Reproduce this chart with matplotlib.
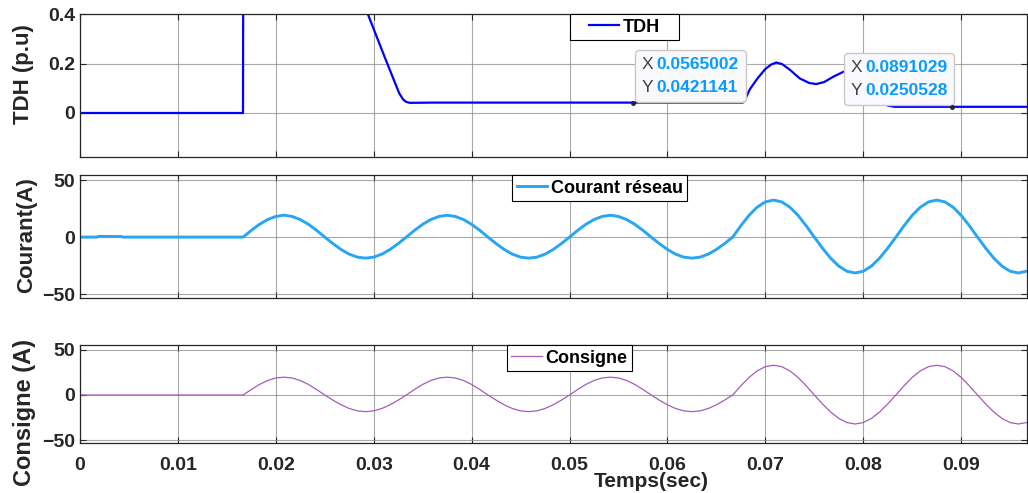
import numpy as np
import matplotlib
matplotlib.use("Agg")
import matplotlib.pyplot as plt
from matplotlib.patches import Rectangle
from matplotlib.offsetbox import TextArea, HPacker, VPacker, AnnotationBbox

plt.rcParams['font.family'] = ['Liberation Sans', 'DejaVu Sans']
plt.rcParams['font.weight'] = 'bold'

# TDH (p.u) points read on the curve (values above 0.4 are off-scale)
tdh_t = [0, 0.01665, 0.01670, 0.0275, 0.0294, 0.0311, 0.0326, 0.0330, 0.0333, 0.0337,
         0.0360, 0.0660, 0.0677, 0.0680, 0.0684, 0.0692, 0.0700, 0.0706, 0.0711, 0.0717,
         0.0725, 0.0735, 0.0745, 0.0752, 0.0760, 0.0770, 0.0780, 0.0790, 0.0803, 0.0815,
         0.0825, 0.0832, 0.0967]
tdh_v = [0, 0, 1.2, 0.6, 0.4, 0.228, 0.08, 0.055, 0.045, 0.041,
         0.042, 0.042, 0.042, 0.06, 0.095, 0.14, 0.178, 0.196, 0.204, 0.198,
         0.175, 0.14, 0.121, 0.117, 0.125, 0.148, 0.167, 0.17, 0.12, 0.06,
         0.03, 0.025, 0.025]

# data tips
tip_x = [0.0565002, 0.0891029]
tip_y = [0.0421141, 0.0250528]

# before the start of the converter
pre_t = [0, 0.0017, 0.0019, 0.0042, 0.0044]
pre_courant = [0, 0, 0.6, 0.5, 0]
pre_consigne = [0, 0, 0, 0, 0]

courant_cycle_low = [0, 5.9, 11.2, 15.4, 18.1, 19.2, 18.1, 15.4, 11.2, 5.9,
                     0, -5.7, -10.9, -15.0, -17.6, -18.5, -17.6, -15.0, -10.9, -5.7]
courant_cycle_high = [0, 10.0, 19.1, 26.3, 30.9, 32.5, 30.9, 26.3, 19.1, 10.0,
                      0, -9.7, -18.5, -25.5, -30.0, -31.5, -30.0, -25.5, -18.5, -9.7]
consigne_cycle_low = [0, 6.1, 11.7, 16.1, 18.9, 19.8, 18.9, 16.1, 11.7, 6.1,
                      0, -5.7, -10.9, -15.0, -17.6, -18.5, -17.6, -15.0, -10.9, -5.7]
consigne_cycle_high = [0, 10.2, 19.5, 26.8, 31.5, 33.0, 31.5, 26.8, 19.5, 10.2,
                       0, -9.9, -18.9, -26.0, -30.6, -32.2, -30.6, -26.0, -18.9, -9.9]

courant = courant_cycle_low * 3 + courant_cycle_high + courant_cycle_high[:17]
consigne = consigne_cycle_low * 3 + consigne_cycle_high + consigne_cycle_high[:17]
t_grid = np.linspace(0.016667, 0.096667, len(courant))

xticks = [0, 0.01, 0.02, 0.03, 0.04, 0.05, 0.06, 0.07, 0.08, 0.09]
xtick_labels = ['0', '0.01', '0.02', '0.03', '0.04', '0.05', '0.06', '0.07', '0.08', '0.09']
tdh_ticks = [0, 0.2, 0.4]
tdh_tick_labels = ['0', '0.2', '0.4']
amp_ticks = [-50, 0, 50]

dark = '#262626'

fig = plt.figure(figsize=(10.28, 4.93), dpi=100)
ax1 = fig.add_axes([0.0778, 0.6815, 0.921, 0.290])
ax2 = fig.add_axes([0.0778, 0.3955, 0.921, 0.2495])
ax3 = fig.add_axes([0.0778, 0.1014, 0.921, 0.1988])


def style(ax):
    ax.set_xlim(0, 0.0967)
    ax.set_xticks(xticks)
    ax.grid(True, color='#8c8c8c', lw=0.8, alpha=0.75)
    ax.tick_params(direction='in', top=True, right=True, length=4, colors=dark,
                   labelsize=14, width=0.8)
    ax.tick_params(axis='x', pad=10, labelsize=14)
    for s in ax.spines.values():
        s.set_color(dark)
        s.set_linewidth(0.9)


def legend(ax, cx, frame=True):
    leg = ax.legend(loc='upper center', bbox_to_anchor=(cx, 1.0), borderaxespad=0,
                    fancybox=False, framealpha=1, edgecolor='black', handlelength=1.7,
                    handletextpad=0.2, borderpad=0.25, frameon=frame,
                    prop=dict(size=13, weight='bold'))
    leg.get_frame().set_linewidth(0.8)
    return leg


def datatip(ax, x, y, align, offset):
    rows = []
    for lab, val in (("X", x), ("Y", y)):
        rows.append(HPacker(children=[
            TextArea(lab, textprops=dict(color='#404040', fontsize=12.5, fontweight='normal')),
            TextArea(str(val), textprops=dict(color='#0a9bff', fontsize=12.5, fontweight='bold'))],
            pad=0, sep=2, align='baseline'))
    box = VPacker(children=rows, pad=0, sep=6)
    ab = AnnotationBbox(box, (x, y), xybox=offset, boxcoords='offset points',
                        box_alignment=align, zorder=5,
                        bboxprops=dict(boxstyle='round,pad=0.5,rounding_size=0.3',
                                       fc='#f9f9fd', ec='#c8c8c8', lw=1))
    ax.add_artist(ab)
    ax.plot([x], [y], 'o', ms=2.5, color='#262626', zorder=6)


# TDH
style(ax1)
ax1.plot(tdh_t, tdh_v, color='#0000ff', lw=1.6, label='TDH')
ax1.set_ylim(-0.178, 0.4)
ax1.set_yticks(tdh_ticks, labels=tdh_tick_labels)
ax1.set_xticklabels([])
ax1.set_ylabel('TDH (p.u)', fontsize=16, fontweight='bold', color=dark)
ax1.yaxis.set_label_coords(-0.060, 0.58)
ax1.yaxis.label.set_va('center')
leg1 = legend(ax1, 0.575, frame=False)
datatip(ax1, tip_x[0], tip_y[0], (0, 0), (6.3, 5.5))
datatip(ax1, tip_x[1], tip_y[1], (1, 0), (-3.5, 6.2))

# Courant reseau
style(ax2)
ax2.plot(list(pre_t) + list(t_grid), pre_courant + courant, color='#27a6f5', lw=2.1,
         label='Courant réseau')
ax2.set_ylim(-53.5, 54.5)
ax2.set_yticks(amp_ticks)
ax2.set_xticklabels([])
ax2.set_ylabel('Courant(A)', fontsize=16, fontweight='bold', color=dark)
ax2.yaxis.set_label_coords(-0.056, 0.51)
ax2.yaxis.label.set_va('center')
legend(ax2, 0.549)

# Consigne
style(ax3)
ax3.plot(list(pre_t) + list(t_grid), pre_consigne + consigne, color='#a45cb8', lw=0.9,
         label='Consigne')
ax3.set_ylim(-53.3, 55.5)
ax3.set_yticks(amp_ticks)
ax3.set_xticklabels(xtick_labels)
ax3.set_ylabel('Consigne (A)', fontsize=17, fontweight='bold', color=dark)
ax3.yaxis.set_label_coords(-0.059, 0.31)
ax3.yaxis.label.set_va('center')
ax3.set_xlabel('Temps(sec)', fontsize=15, fontweight='bold', color=dark)
ax3.xaxis.set_label_coords(0.603, -0.298)
ax3.xaxis.label.set_va('top')
legend(ax3, 0.517)

# the TDH legend box is wider than its content (MATLAB style)
fig.canvas.draw()
bb = leg1.get_window_extent()
ax1.add_patch(Rectangle((bb.x0 - 14, bb.y0), bb.width + 28, bb.height, transform=None,
                        fc='white', ec='black', lw=0.8, zorder=4.9, clip_on=False))

fig.savefig('out.png', dpi=100)
